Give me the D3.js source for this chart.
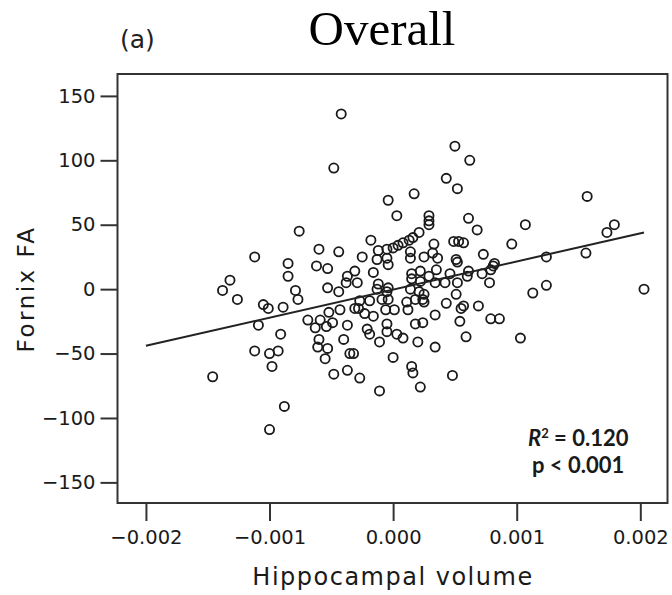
<!DOCTYPE html>
<html>
<head>
<meta charset="UTF-8">
<title>Overall</title>
<script src="https://cdn.jsdelivr.net/npm/d3@7"></script>
<style>
  body { margin: 0; background: #fff; }
</style>
</head>
<body>
<script>
// hippocampal volume (x) and fornix FA (y)
var hippoVol = [
  -0.00146, -0.00100, -0.00088, -0.00112, -0.00100, -0.00093, -0.00098, -0.00091, -0.00109, -0.00132,
  -0.00138, -0.00126, -0.00112, -0.00105, -0.00101, -0.00089, -0.00085, -0.00085, -0.00079, -0.00077,
  -0.00076, -0.00069, -0.00063, -0.00059, -0.00054, -0.00052, -0.00049, -0.00043, -0.00037, -0.00040,
  -0.00060, -0.00061, -0.00053, -0.00055, -0.00035, -0.00032, -0.00048, -0.00037, -0.00027, -0.00011,
  -0.00021, -0.00019, -0.00011, 0.00000, -0.00005, -0.00005, 0.00003, -0.00016, -0.00023, -0.00031,
  -0.00028, -0.00027, -0.00019, -0.00044, -0.00053, -0.00037, -0.00038, -0.00029, -0.00012, -0.00013,
  -0.00005, -0.00004, -0.00006, 0.00001, -0.00009, -0.00004,
  -0.00042, -0.00048, -0.00004, 0.00003, -0.00018, -0.00060, -0.00044, -0.00025, -0.00062, -0.00053,
  -0.00031, -0.00016, -0.00012, -0.00005, 0.00000, 0.00004, -0.00005, -0.00004, -0.00013,
  0.00017, 0.00050, 0.00062, 0.00043, 0.00052, 0.00029, 0.00029, 0.00029, 0.00061, 0.00068,
  0.00021, 0.00107, 0.00157, 0.00179, 0.00173, 0.00096, 0.00049, 0.00053, 0.00057, 0.00033,
  0.00016, 0.00013, 0.00008, 0.00014, 0.00014, 0.00025, 0.00032, 0.00036, 0.00051, 0.00052,
  0.00073, 0.00124, 0.00156, 0.00035, 0.00046, 0.00082, 0.00081, 0.00079, 0.00072, 0.00078,
  0.00061, 0.00060, 0.00052, 0.00124, 0.00113, 0.00203, 0.00015, 0.00015, 0.00022, 0.00022,
  0.00029, 0.00034, 0.00042, 0.00014, 0.00021, 0.00025, 0.00051, 0.00043, 0.00018, 0.00011,
  0.00024, 0.00025, 0.00055, 0.00057, 0.00069, 0.00079, 0.00086, 0.00012, 0.00018, 0.00024,
  0.00034, 0.00054, 0.00059, 0.00103, 0.00008, 0.00020, 0.00034, 0.00015, 0.00016, 0.00022,
  0.00048
];
var fornixFA = [
  -68, -109, -91, -48, -50, -48, -60, -35, -28, 7,
  -1, -8, 25, -12, -15, -14, 20, 10, -1, -8,
  45, -24, -30, -24, -29, -18, -26, -16, -28, -39,
  -39, -45, -46, -54, -50, -50, -66, -63, -69, -79,
  -31, -35, -41, -53, -27, -33, -35, -21, -19, -15,
  -15, -9, -9, -2, 1, 10, 5, 5, 4, 0,
  -2, 1, -16, -16, -8, -8,
  136, 94, 69, 57, 38, 31, 29, 25, 18, 16,
  14, 13, 30, 31, 32, 34, 24, 19, 23,
  74, 111, 100, 86, 78, 57, 53, 50, 55, 46,
  44, 50, 72, 50, 44, 35, 37, 37, 36, 35,
  40, 38, 36, 29, 24, 25, 28, 24, 23, 21,
  27, 25, 28, 15, 12, 20, 18, 15, 12, 5,
  14, 10, 5, 3, -3, 0, 12, 8, 14, 6,
  10, 5, 5, 0, -2, -4, -4, -11, -8, -10,
  -8, -10, -15, -13, -13, -23, -23, -16, -27, -26,
  -20, -25, -37, -38, -38, -41, -45, -60, -65, -76,
  -67
];
// fitted line end points
var fitX = [-0.00200, 0.00203];
var fitY = [-44, 44];
var xTicks = [-0.002, -0.001, 0, 0.001, 0.002];
var yTicks = [-150, -100, -50, 0, 50, 100, 150];

var W = 672, H = 595;
var mL = 117.5, mR = 667.5, mT = 74, mB = 503;

var svg = d3.select("body").append("svg")
  .attr("width", W).attr("height", H);

var x = d3.scaleLinear().domain([-0.00223, 0.00222]).range([mL, mR]);
var y = d3.scaleLinear().domain([-166, 167]).range([mB, mT]);

var sans = "'DejaVu Sans', sans-serif";

// frame
svg.append("rect")
  .attr("x", mL).attr("y", mT)
  .attr("width", mR - mL).attr("height", mB - mT)
  .attr("fill", "none").attr("stroke", "#333").attr("stroke-width", 2);

var xAxis = svg.append("g")
  .attr("transform", "translate(0," + mB + ")")
  .call(d3.axisBottom(x).tickValues(xTicks).tickSize(18).tickPadding(9)
        .tickFormat(d3.format(".3f")));
var yAxis = svg.append("g")
  .attr("transform", "translate(" + mL + ",0)")
  .call(d3.axisLeft(y).tickValues(yTicks).tickSize(17).tickPadding(5)
        .tickFormat(d3.format("d")));

[xAxis, yAxis].forEach(function(g) {
  g.select(".domain").remove();
  g.selectAll(".tick line").attr("stroke", "#333").attr("stroke-width", 2);
  g.selectAll(".tick text")
    .attr("fill", "#1a1a1a")
    .attr("font-family", sans)
    .attr("font-size", "19.5px");
});

// points
svg.append("g").selectAll("circle")
  .data(d3.zip(hippoVol, fornixFA))
  .enter().append("circle")
  .attr("cx", function(d){ return x(d[0]); })
  .attr("cy", function(d){ return y(d[1]); })
  .attr("r", 4.6)
  .attr("fill", "none")
  .attr("stroke", "#1a1a1a")
  .attr("stroke-width", 1.8);

// regression line
svg.append("line")
  .attr("x1", x(fitX[0])).attr("y1", y(fitY[0]))
  .attr("x2", x(fitX[1])).attr("y2", y(fitY[1]))
  .attr("stroke", "#222").attr("stroke-width", 2);

// titles
svg.append("text")
  .attr("x", 382).attr("y", 45)
  .attr("text-anchor", "middle")
  .attr("font-family", "'Liberation Serif', 'Times New Roman', serif")
  .attr("font-size", "49px")
  .attr("fill", "#000")
  .text("Overall");

svg.append("text")
  .attr("x", 120).attr("y", 48)
  .attr("font-family", sans)
  .attr("font-size", "25px")
  .attr("fill", "#222")
  .text("(a)");

svg.append("text")
  .attr("x", 393).attr("y", 585)
  .attr("text-anchor", "middle")
  .attr("font-family", sans)
  .attr("font-size", "24px")
  .attr("letter-spacing", "1.5px")
  .attr("fill", "#1a1a1a")
  .text("Hippocampal volume");

svg.append("text")
  .attr("transform", "translate(34,289) rotate(-90)")
  .attr("text-anchor", "middle")
  .attr("font-family", sans)
  .attr("font-size", "23px")
  .attr("letter-spacing", "2.5px")
  .attr("fill", "#1a1a1a")
  .text("Fornix FA");

// stats text
var stat = svg.append("g")
  .attr("font-family", "Lato, 'Open Sans', sans-serif")
  .attr("font-weight", "bold")
  .attr("font-size", "22px")
  .attr("fill", "#1a1a1a");
var r2 = stat.append("text").attr("x", 528).attr("y", 446);
r2.append("tspan").attr("font-style", "italic").text("R");
r2.append("tspan").attr("font-size", "13px").attr("dy", -8).text("2");
r2.append("tspan").attr("dy", 8).text(" = 0.120");
stat.append("text").attr("x", 532).attr("y", 473).text("p < 0.001");
</script>
</body>
</html>
